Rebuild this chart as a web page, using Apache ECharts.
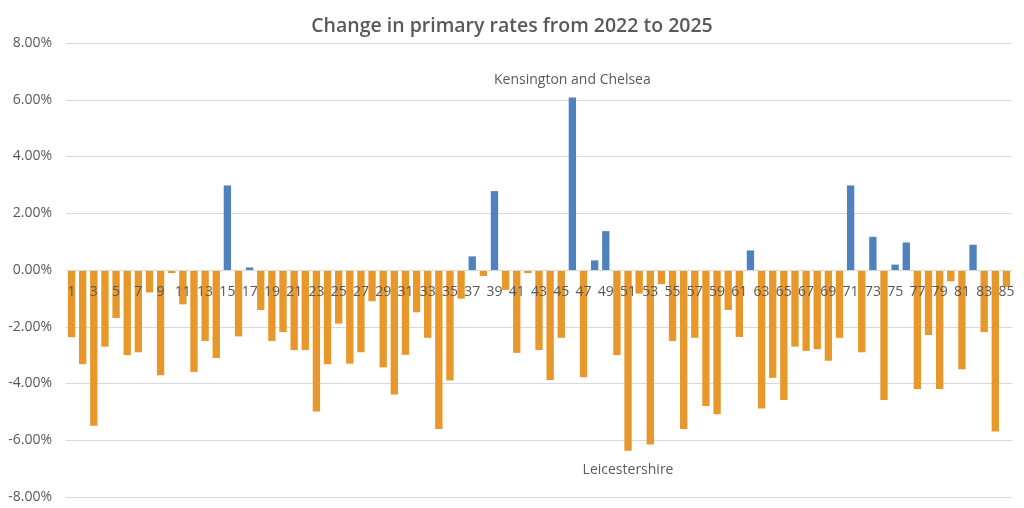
<!DOCTYPE html>
<html>
<head>
<meta charset="utf-8">
<script src="https://cdn.jsdelivr.net/npm/echarts@6/dist/echarts.min.js"></script>
<style>
html, body { margin: 0; padding: 0; background: #fff; }
#chart { width: 1024px; height: 508px; }
</style>
</head>
<body>
<div id="chart"></div>
<script>
// area numbers along the x axis
var categories = ['1','2','3','4','5','6','7','8','9','10','11','12','13','14','15','16','17','18','19','20',
  '21','22','23','24','25','26','27','28','29','30','31','32','33','34','35','36','37','38','39','40',
  '41','42','43','44','45','46','47','48','49','50','51','52','53','54','55','56','57','58','59','60',
  '61','62','63','64','65','66','67','68','69','70','71','72','73','74','75','76','77','78','79','80',
  '81','82','83','84','85'];

// change in primary rate, percentage points
var rateChange = [
  -2.37, -3.32, -5.49, -2.70, -1.69, -3.00, -2.90, -0.79, -3.71, -0.11,
  -1.21, -3.59, -2.50, -3.10,  2.98, -2.34,  0.09, -1.41, -2.50, -2.19,
  -2.82, -2.82, -4.99, -3.32, -1.89, -3.30, -2.90, -1.10, -3.43, -4.39,
  -2.99, -1.49, -2.39, -5.60, -3.89, -1.01,  0.48, -0.21,  2.78, -0.70,
  -2.92, -0.11, -2.82, -3.88, -2.39,  6.08, -3.78,  0.34,  1.37, -3.00,
  -6.37, -0.83, -6.15, -0.50, -2.50, -5.60, -2.39, -4.79, -5.08, -1.41,
  -2.36,  0.69, -4.88, -3.80, -4.58, -2.70, -2.85, -2.79, -3.20, -2.39,
   2.98, -2.90,  1.17, -4.58,  0.19,  0.97, -4.19, -2.29, -4.19, -0.40,
  -3.50,  0.89, -2.19, -5.69, -0.60
];

// named areas called out on the chart
var callouts = { '46': 'Kensington and Chelsea', '51': 'Leicestershire' };

var yMin = -8, yMax = 8, yStep = 2;

var textColor = '#595959';
var fontFamily = '"Open Sans", "Noto Sans", sans-serif';

var barData = rateChange.map(function (v, i) {
  var item = { value: v };
  var name = callouts[categories[i]];
  if (name) {
    item.label = {
      show: true,
      position: v >= 0 ? 'top' : 'bottom',
      distance: v >= 0 ? 10 : 12,
      formatter: name,
      color: textColor,
      fontSize: 14,
      fontFamily: fontFamily
    };
  }
  return item;
});

var myChart = echarts.init(document.getElementById('chart'));
option = {
  animation: false,
  title: {
    text: 'Change in primary rates from 2022 to 2025',
    left: 'center',
    top: 11,
    textStyle: {
      color: textColor,
      fontSize: 19.5,
      fontWeight: 600,
      fontFamily: fontFamily
    }
  },
  grid: {
    left: 66,
    right: 12,
    top: 43,
    bottom: 11,
    containLabel: false,
    outerBoundsMode: 'none'
  },
  xAxis: {
    type: 'category',
    data: categories,
    z: 5,
    // category axis sits on the 0% line (half the grid height up from the bottom)
    offset: -227,
    axisTick: { show: false },
    axisLine: {
      onZero: false,
      lineStyle: { color: '#d9d9d9', width: 1 }
    },
    axisLabel: {
      interval: 1,
      margin: 15,
      color: textColor,
      fontSize: 14,
      fontFamily: fontFamily
    }
  },
  yAxis: {
    type: 'value',
    min: yMin,
    max: yMax,
    interval: yStep,
    axisLine: { show: false },
    axisTick: { show: false },
    splitLine: { lineStyle: { color: '#d9d9d9', width: 1 } },
    axisLabel: {
      margin: 14,
      color: textColor,
      fontSize: 14,
      fontFamily: fontFamily,
      formatter: function (v) { return v.toFixed(2) + '%'; }
    }
  },
  series: [
    {
      name: 'Change',
      type: 'bar',
      barCategoryGap: '34%',
      data: barData,
      itemStyle: {
        color: function (p) { return p.value >= 0 ? '#4F81BD' : '#E8972B'; }
      }
    }
  ]
};
myChart.setOption(option);
</script>
</body>
</html>
